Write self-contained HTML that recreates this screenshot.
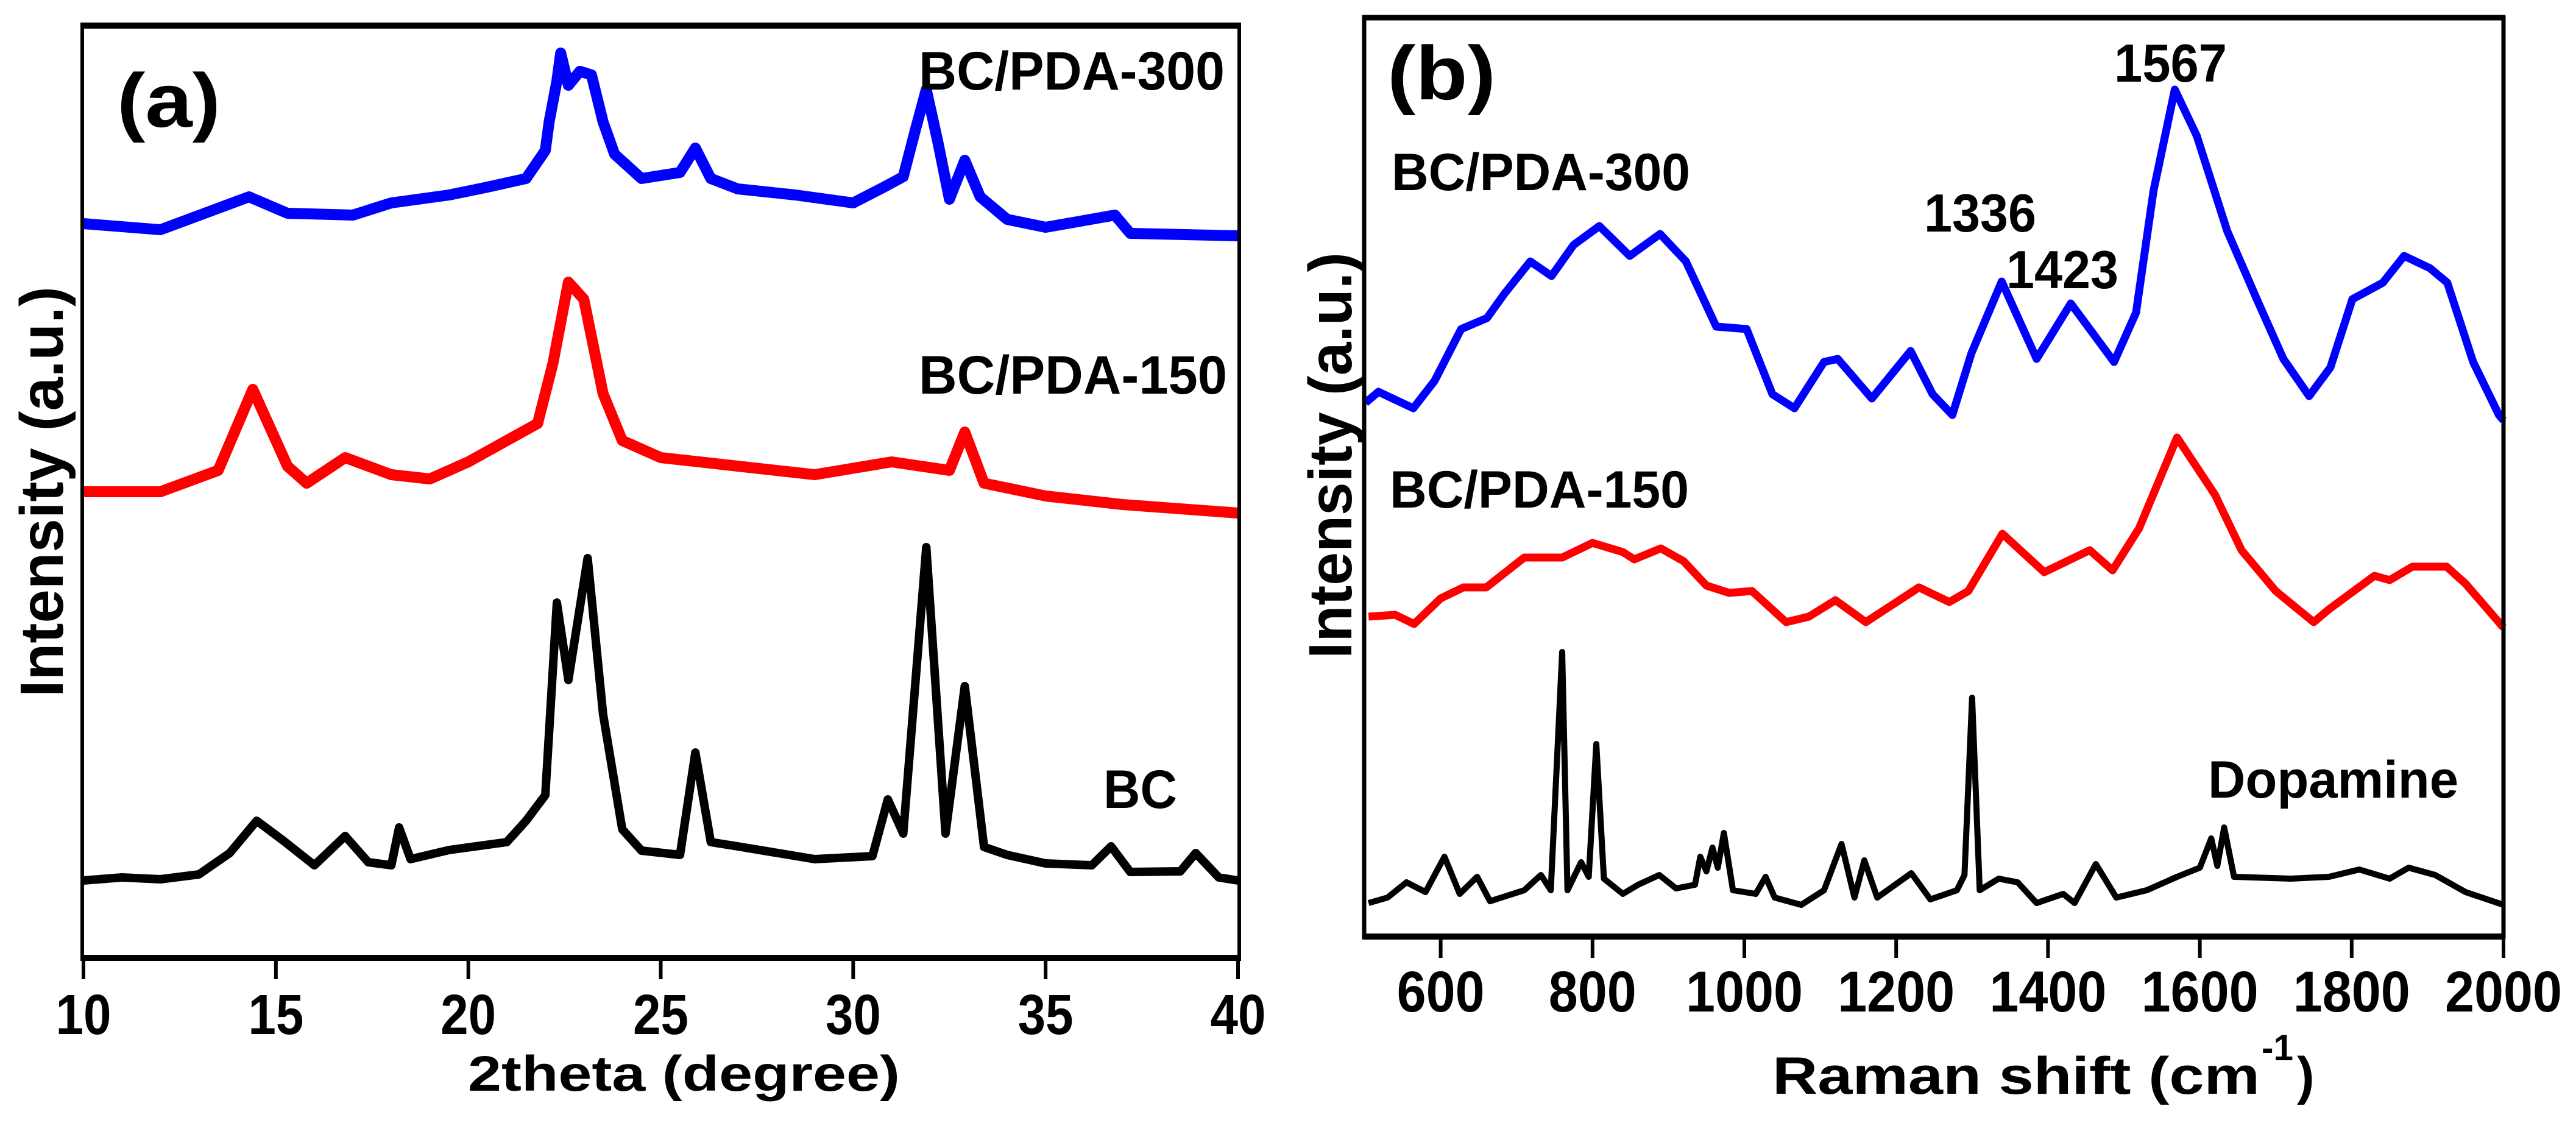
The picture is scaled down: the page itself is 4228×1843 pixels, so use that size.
<!DOCTYPE html>
<html><head><meta charset="utf-8"><style>
html,body{margin:0;padding:0;background:#fff;}
svg{display:block;}
text{font-family:"Liberation Sans",Arial,sans-serif;font-weight:bold;fill:#000;}
</style></head><body>
<svg id="fig" width="4228" height="1843" viewBox="0 0 4228 1843" xmlns="http://www.w3.org/2000/svg">
<rect x="0" y="0" width="4228" height="1843" fill="#fff"/>
<g id="panelA"></g>
<g id="panelB"></g>
</svg>
<script>
// ---------- Panel (a) XRD data ----------
const xrdTicks = [10, 15, 20, 25, 30, 35, 40];
const bcTheta = [10,11,12,13,13.8,14.5,15.2,16,16.8,17.4,18,18.2,18.5,19.5,21,21.5,22.0,22.3,22.6,23.1,23.5,24,24.5,25.5,25.9,26.3,27,29,30.5,30.9,31.3,31.9,32.4,32.9,33.4,34,35,36.2,36.7,37.2,38.5,38.9,39.5,40];
const bcInt = [127,132,129,137,172,225,192,152,200,157,152,214,162,177,190,225,267,583,456,656,400,211,176,169,337,190,183,162,167,260,204,674,204,446,182,169,155,152,183,141,142,172,132,127];
const pda150Theta = [10,12,13.5,14.4,15.3,15.8,16.8,18,19,20,21,21.8,22.2,22.6,23,23.5,24,25,27,29,31,32.5,32.9,33.4,35,37,40];
const pda150Int = [765,765,800,933,807,779,821,793,786,814,849,877,976,1109,1081,926,849,821,807,793,814,800,863,779,758,744,730];
const pda300Theta = [10,12,14.3,15.3,17,18,19.5,20.5,21.5,22,22.1,22.3,22.4,22.6,22.9,23.2,23.5,23.8,24.5,25.5,25.9,26.3,27,28.5,30,30.8,31.3,31.6,31.9,32.2,32.5,32.9,33.3,34,35,36.8,37.2,40];
const pda300Int = [1205,1195,1249,1222,1219,1239,1252,1265,1279,1325,1372,1439,1485,1432,1455,1449,1372,1319,1279,1289,1329,1279,1262,1252,1239,1265,1282,1355,1425,1339,1245,1309,1249,1212,1199,1219,1189,1185];

// ---------- Panel (b) Raman data ----------
const ramanTicks = [600, 800, 1000, 1200, 1400, 1600, 1800, 2000];
const r300Wn = [501,518,564,592,627,661,684,718,746,775,809,849,889,923,963,1003,1037,1066,1105,1123,1168,1219,1248,1274,1299,1339,1385,1430,1487,1516,1539,1567,1596,1636,1675,1710,1744,1772,1801,1841,1869,1903,1926,1960,1994,2000];
const r300Int = [876,894,867,912,997,1015,1055,1108,1084,1135,1166,1117,1153,1108,1001,997,890,867,943,948,883,961,890,856,957,1075,948,1039,943,1024,1224,1390,1314,1158,1046,948,887,934,1046,1073,1117,1097,1073,943,856,847];
const r150Wn = [505,540,565,600,630,660,710,760,800,840,855,890,920,950,980,1010,1055,1085,1120,1160,1230,1270,1295,1340,1395,1455,1485,1520,1570,1620,1655,1700,1750,1770,1830,1850,1880,1925,1950,2000];
const r150Int = [525,528,513,555,573,573,622,622,646,631,619,637,616,576,564,567,516,525,552,516,573,549,567,661,598,634,601,670,819,725,634,567,516,537,592,585,607,607,579,507];
const dopWn = [505,530,555,580,605,625,648,665,710,732,745,760,767,785,795,805,815,840,860,888,910,935,942,950,958,965,973,985,1015,1028,1040,1075,1105,1128,1145,1158,1175,1220,1245,1280,1290,1300,1310,1335,1360,1385,1420,1435,1463,1490,1530,1570,1600,1615,1623,1632,1645,1720,1770,1810,1850,1875,1910,1950,2000];
const dopInt = [55,64,89,73,131,70,98,58,76,101,76,467,76,122,98,316,95,70,85,101,79,85,131,107,146,113,170,76,70,98,64,52,76,152,64,125,64,104,61,76,101,392,76,95,89,55,70,55,119,64,76,98,113,161,116,179,98,95,98,110,95,113,101,73,52];

const NS = "http://www.w3.org/2000/svg";
function mk(parent, tag, attrs) {
  const e = document.createElementNS(NS, tag);
  for (const k in attrs) e.setAttribute(k, attrs[k]);
  parent.appendChild(e);
  return e;
}
function lin(d0, d1, r0, r1) { return v => r0 + (v - d0) * (r1 - r0) / (d1 - d0); }

const gA = document.getElementById('panelA');
const ax = lin(10, 40, 137, 2032);
const ay = lin(0, 1530, 1572, 42);

function series(g, xs, ys, fx, fy, color, w, name) {
  let d = '';
  xs.forEach((v, i) => { d += (i ? 'L' : 'M') + fx(v).toFixed(1) + ',' + fy(ys[i]).toFixed(1); });
  const p = mk(g, 'path', {d: d, fill: 'none', stroke: color, 'stroke-width': w, 'stroke-linejoin': 'round', 'stroke-linecap': 'butt'});
  
  
}
series(gA, pda300Theta, pda300Int, ax, ay, '#0000ff', 18, 'bc-pda-300-xrd-line');
series(gA, pda150Theta, pda150Int, ax, ay, '#ff0000', 18, 'bc-pda-150-xrd-line');
series(gA, bcTheta, bcInt, ax, ay, '#000000', 14, 'bc-xrd-line');

const fa = mk(gA, 'g', {});


mk(fa, 'rect', {x: 135, y: 42, width: 1899, height: 1530, fill: 'none', stroke: '#000', 'stroke-width': 6});
mk(fa, 'line', {x1: 132, y1: 42, x2: 2037, y2: 42, stroke: '#000', 'stroke-width': 10});
mk(fa, 'line', {x1: 132, y1: 1572, x2: 2037, y2: 1572, stroke: '#000', 'stroke-width': 10});
xrdTicks.forEach(t => {
  const tk = mk(gA, 'line', {x1: ax(t), y1: 1577, x2: ax(t), y2: 1607, stroke: '#000', 'stroke-width': 6});
  
  
  const tl = mk(gA, 'text', {x: ax(t), y: 1697, 'font-size': 93, 'text-anchor': 'middle', textLength: 91, lengthAdjust: 'spacingAndGlyphs'});
  tl.textContent = t;
  
  
});

const gB = document.getElementById('panelB');
const bx = lin(500, 2000, 2240, 4109);
const by = lin(0, 1508, 1537, 29);
series(gB, r300Wn, r300Int, bx, by, '#0000ff', 13, 'bc-pda-300-raman-line');
series(gB, r150Wn, r150Int, bx, by, '#ff0000', 13, 'bc-pda-150-raman-line');
series(gB, dopWn, dopInt, bx, by, '#000000', 10, 'dopamine-raman-line');

const fb = mk(gB, 'g', {});


mk(fb, 'rect', {x: 2239, y: 29, width: 1870, height: 1508, fill: 'none', stroke: '#000', 'stroke-width': 7});
mk(fb, 'line', {x1: 2236, y1: 29, x2: 4112, y2: 29, stroke: '#000', 'stroke-width': 9});
mk(fb, 'line', {x1: 2236, y1: 1537, x2: 4112, y2: 1537, stroke: '#000', 'stroke-width': 10});
ramanTicks.forEach(t => {
  const tk = mk(gB, 'line', {x1: bx(t), y1: 1542, x2: bx(t), y2: 1572, stroke: '#000', 'stroke-width': 6});
  
  
  const s = String(t);
  const tl = mk(gB, 'text', {x: bx(t), y: 1660, 'font-size': 95, 'text-anchor': 'middle', textLength: s.length * 48, lengthAdjust: 'spacingAndGlyphs'});
  tl.textContent = s;
  
  
});
</script>
<svg style="position:absolute;left:0;top:0" width="4228" height="1843" viewBox="0 0 4228 1843" xmlns="http://www.w3.org/2000/svg">
<g font-family="Liberation Sans, Arial, sans-serif" font-weight="bold" fill="#000">
<text x="192" y="208" font-size="125" textLength="170" lengthAdjust="spacingAndGlyphs">(a)</text>
<text x="1508" y="147" font-size="89" textLength="502" lengthAdjust="spacingAndGlyphs">BC/PDA-300</text>
<text x="1508" y="646" font-size="89" textLength="506" lengthAdjust="spacingAndGlyphs">BC/PDA-150</text>
<text x="1811" y="1326" font-size="89" textLength="121" lengthAdjust="spacingAndGlyphs">BC</text>
<text x="768" y="1790" font-size="82" textLength="709" lengthAdjust="spacingAndGlyphs">2theta (degree)</text>
<text transform="translate(103,1144) rotate(-90)" x="0" y="0" font-size="100" textLength="674" lengthAdjust="spacingAndGlyphs">Intensity (a.u.)</text>
<text x="2277" y="163" font-size="125" textLength="178" lengthAdjust="spacingAndGlyphs">(b)</text>
<text x="2284" y="312" font-size="86" textLength="490" lengthAdjust="spacingAndGlyphs">BC/PDA-300</text>
<text x="2281" y="833" font-size="86" textLength="491" lengthAdjust="spacingAndGlyphs">BC/PDA-150</text>
<text x="3624" y="1309" font-size="86" textLength="411" lengthAdjust="spacingAndGlyphs">Dopamine</text>
<text x="3470" y="134" font-size="88" textLength="185" lengthAdjust="spacingAndGlyphs">1567</text>
<text x="3158" y="380" font-size="88" textLength="184" lengthAdjust="spacingAndGlyphs">1336</text>
<text x="3293" y="473" font-size="88" textLength="184" lengthAdjust="spacingAndGlyphs">1423</text>
<text x="2909" y="1795" font-size="86" textLength="800" lengthAdjust="spacingAndGlyphs">Raman shift (cm</text>
<text x="3712" y="1740" font-size="60" textLength="52" lengthAdjust="spacingAndGlyphs">-1</text>
<text x="3770" y="1795" font-size="86">)</text>
<text transform="translate(2218,1081) rotate(-90)" x="0" y="0" font-size="100" textLength="667" lengthAdjust="spacingAndGlyphs">Intensity (a.u.)</text>
</g>
</svg>
</body></html>
